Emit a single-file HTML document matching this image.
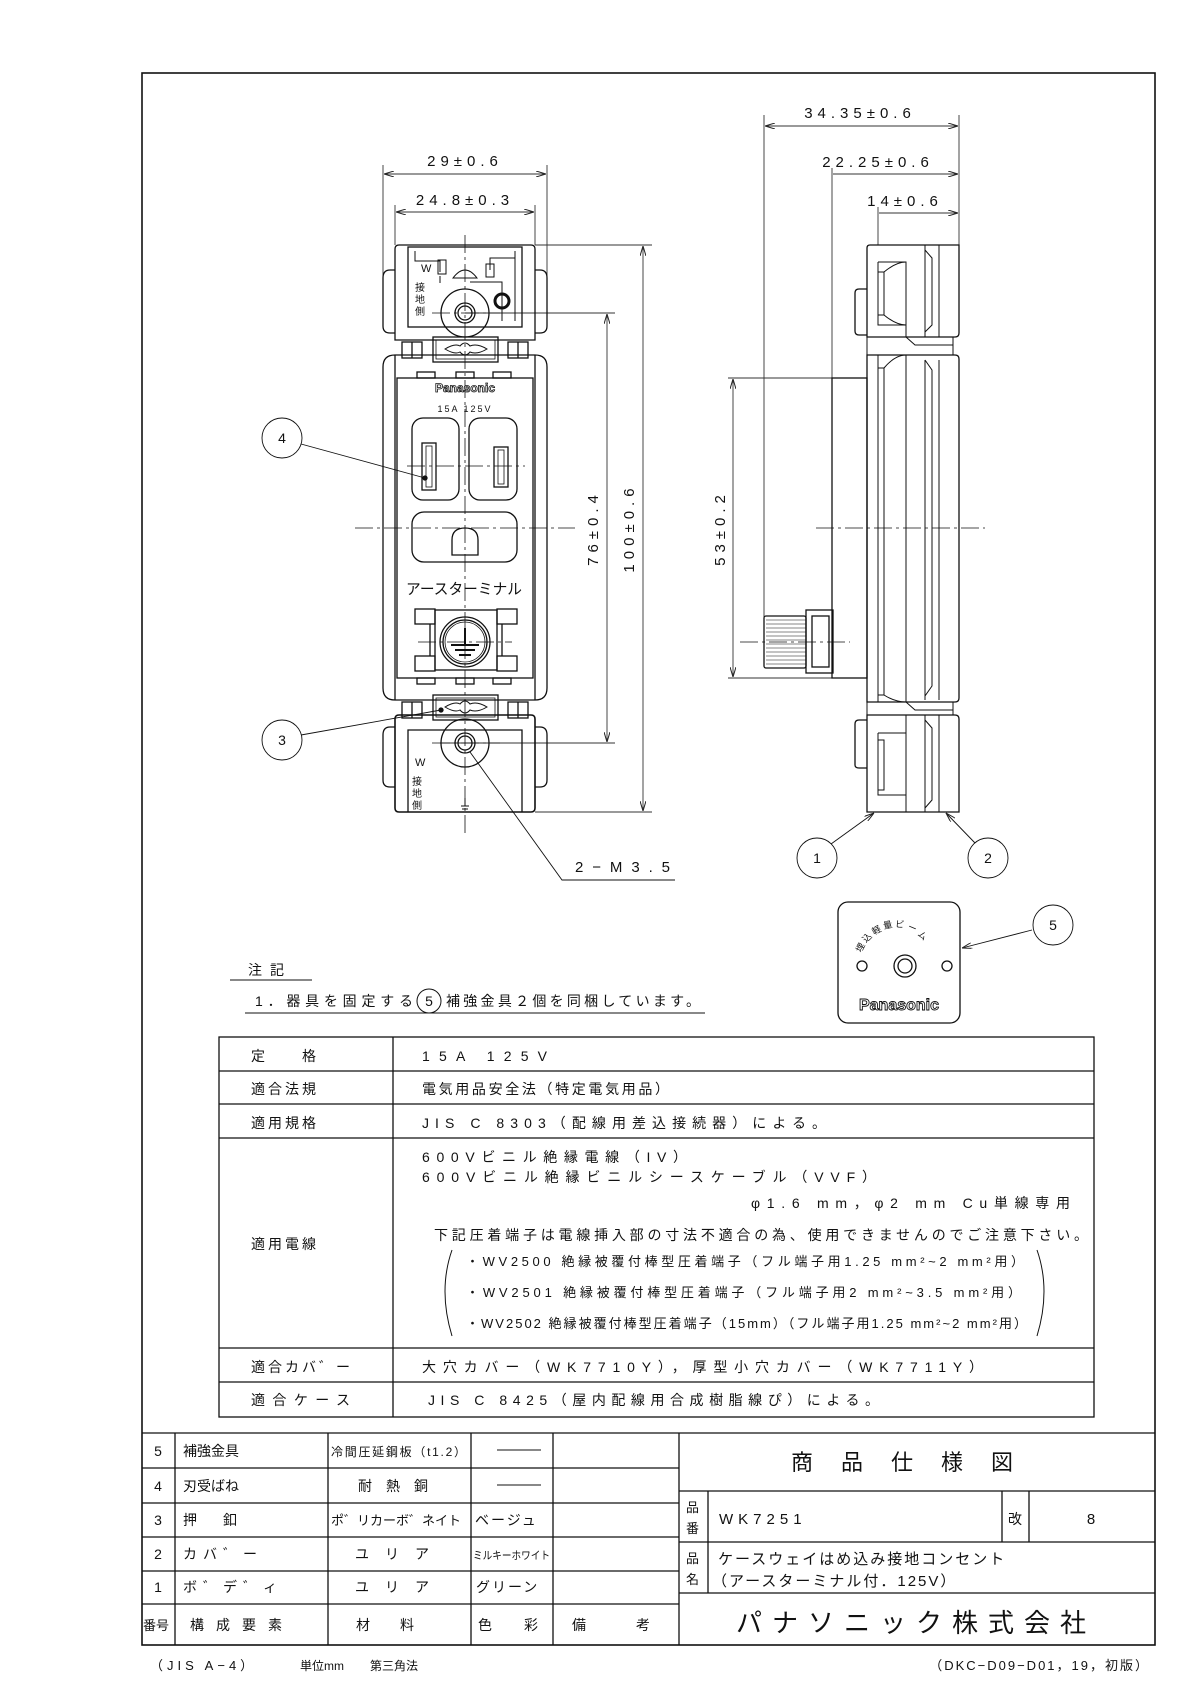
<!DOCTYPE html>
<html><head><meta charset="utf-8"><style>
html,body{margin:0;padding:0;background:#fff}
svg{display:block}
text{font-family:"Liberation Sans","Noto Sans CJK JP",sans-serif;fill:#111}
</style></head><body>
<svg width="1190" height="1683" viewBox="0 0 1190 1683" xmlns="http://www.w3.org/2000/svg">
<defs>
<marker id="ar" viewBox="0 0 10 6" refX="10" refY="3" markerWidth="10" markerHeight="6" orient="auto-start-reverse" markerUnits="userSpaceOnUse"><path d="M0,0 L10,3 L0,6" fill="none" stroke="#222" stroke-width="1"/></marker>
</defs>
<g fill="none" stroke="#111" stroke-width="1.3">
<rect x="142" y="73" width="1013" height="1572" stroke-width="1.6"/>

<g stroke-width="0.9" stroke="#333">
<line x1="383" y1="165" x2="383" y2="290"/><line x1="547" y1="165" x2="547" y2="290"/>
<line x1="384" y1="174" x2="546" y2="174" marker-start="url(#ar)" marker-end="url(#ar)"/>
<line x1="395" y1="205" x2="395" y2="245"/><line x1="535" y1="205" x2="535" y2="245"/>
<line x1="396" y1="212" x2="534" y2="212" marker-start="url(#ar)" marker-end="url(#ar)"/>
<line x1="535" y1="245" x2="652" y2="245"/><line x1="535" y1="812" x2="652" y2="812"/>
<line x1="643" y1="246" x2="643" y2="811" marker-start="url(#ar)" marker-end="url(#ar)"/>
<line x1="465" y1="313" x2="615" y2="313"/><line x1="440" y1="743" x2="615" y2="743"/>
<line x1="607" y1="314" x2="607" y2="742" marker-start="url(#ar)" marker-end="url(#ar)"/>
</g>
<g stroke-width="0.8" stroke-dasharray="18,4,3,4">
<line x1="465" y1="235" x2="465" y2="835"/>
<line x1="355" y1="528" x2="575" y2="528"/>
<line x1="432" y1="313" x2="500" y2="313"/>
<line x1="418" y1="642" x2="512" y2="642"/>
<line x1="432" y1="743" x2="500" y2="743"/>
<line x1="407" y1="466" x2="525" y2="466"/>
<line x1="816" y1="528" x2="985" y2="528"/>
<line x1="740" y1="642" x2="850" y2="642"/>
</g>
<path d="M399,245 H531 Q535,245 535,249 V340 H395 V249 Q395,245 399,245 Z"/>
<path d="M395,270 H390 Q383,270 383,278 V326 Q383,333 390,333 H395"/>
<path d="M535,270 H540 Q547,270 547,278 V326 Q547,333 540,333 H535"/>
<rect x="408" y="247" width="114" height="80"/>
<circle cx="465" cy="313" r="24"/><circle cx="465" cy="313" r="10"/><circle cx="465" cy="313" r="7"/>
<circle cx="502" cy="301" r="7" stroke-width="3"/>
<path d="M415,251 V261 H440 V272 M440,283 V276" stroke-width="1"/><rect x="438" y="260" width="8" height="14" stroke-width="1"/>
<path d="M515,251 V258 H490 V270" stroke-width="1"/><rect x="486" y="264" width="8" height="13" stroke-width="1"/>
<path d="M453,278 Q465,262 477,278 Z" stroke-width="1"/>
<path d="M470,282 H502 V321 M515,251 V321" stroke-width="1"/>
<rect x="433" y="337" width="65" height="25"/><rect x="436" y="340" width="59" height="19" stroke-width="0.8"/>
<path d="M445,349 Q455,343 460,346 Q465,340 470,346 Q477,343 487,349 Q477,355 470,352 Q465,358 460,352 Q455,355 445,349Z" stroke-width="1"/>
<rect x="402" y="342" width="20" height="16"/><line x1="412" y1="342" x2="412" y2="358"/>
<rect x="508" y="342" width="20" height="16"/><line x1="518" y1="342" x2="518" y2="358"/>
<path d="M395,355 H535 Q547,355 547,367 V688 Q547,700 535,700 H395 Q383,700 383,688 V367 Q383,355 395,355 Z"/>
<line x1="395" y1="355" x2="395" y2="700"/><line x1="535" y1="355" x2="535" y2="700"/>
<rect x="397" y="378" width="136" height="300"/>
<rect x="417" y="372" width="18" height="6"/><rect x="456" y="372" width="18" height="6"/><rect x="493" y="372" width="18" height="6"/>
<rect x="417" y="678" width="18" height="6"/><rect x="456" y="678" width="18" height="6"/><rect x="493" y="678" width="18" height="6"/>
<rect x="412" y="418" width="47" height="82" rx="11"/>
<rect x="469" y="418" width="48" height="82" rx="11"/>
<rect x="422" y="443" width="14" height="47"/><rect x="426" y="446" width="6" height="41" stroke-width="0.8"/>
<rect x="494" y="447" width="14" height="40"/><rect x="498" y="450" width="6" height="34" stroke-width="0.8"/>
<rect x="412" y="512" width="105" height="50" rx="12"/>
<path d="M452,555 V540 Q452,528 465,528 Q478,528 478,540 V555 Z"/>
<rect x="435" y="610" width="62" height="60"/>
<rect x="415" y="609" width="20" height="15"/><rect x="497" y="609" width="20" height="15"/>
<rect x="415" y="656" width="20" height="15"/><rect x="497" y="656" width="20" height="15"/>
<line x1="430" y1="624" x2="430" y2="656"/><line x1="502" y1="624" x2="502" y2="656"/>
<circle cx="465" cy="642" r="25"/><circle cx="465" cy="642" r="22"/><circle cx="465" cy="642" r="20" stroke-width="0.8"/>
<path d="M465,628 V645 M451,645 H479 M455,650 H475 M459,655 H471" stroke-width="2"/>
<rect x="433" y="695" width="65" height="25"/><rect x="436" y="698" width="59" height="19" stroke-width="0.8"/>
<path d="M445,707 Q455,701 460,704 Q465,698 470,704 Q477,701 487,707 Q477,713 470,710 Q465,716 460,710 Q455,713 445,707Z" stroke-width="1"/>
<rect x="402" y="702" width="20" height="16"/><line x1="412" y1="702" x2="412" y2="718"/>
<rect x="508" y="702" width="20" height="16"/><line x1="518" y1="702" x2="518" y2="718"/>
<path d="M399,715 H531 Q535,715 535,719 V808 Q535,812 531,812 H399 Q395,812 395,808 V719 Q395,715 399,715 Z" stroke-width="1.6"/>
<path d="M395,727 H390 Q383,727 383,735 V780 Q383,787 390,787 H395"/>
<path d="M535,727 H540 Q547,727 547,735 V780 Q547,787 540,787 H535"/>
<path d="M408,812 V730 H522 V812"/>
<circle cx="465" cy="743" r="24"/><circle cx="465" cy="743" r="10"/><circle cx="465" cy="743" r="7"/>
<path d="M465,798 V806 M461,806 H469 M462,809 H468" stroke-width="1"/>
<g stroke-width="0.9">
<circle cx="282" cy="438" r="20"/><line x1="301" y1="444" x2="425" y2="478"/>
<circle cx="282" cy="740" r="20"/><line x1="301" y1="735" x2="441" y2="710"/>
<polyline points="470,752 562,880 675,880"/>
</g>
<circle cx="425" cy="478" r="2" fill="#111"/><circle cx="441" cy="710" r="2" fill="#111"/>

<g stroke-width="0.9" stroke="#333">
<line x1="764" y1="115" x2="764" y2="640"/><line x1="959" y1="115" x2="959" y2="245"/>
<line x1="765" y1="126" x2="958" y2="126" marker-start="url(#ar)" marker-end="url(#ar)"/>
<line x1="832" y1="168" x2="832" y2="378"/>
<line x1="833" y1="174" x2="958" y2="174" marker-end="url(#ar)"/>
<line x1="878" y1="207" x2="878" y2="245"/>
<line x1="879" y1="213" x2="958" y2="213" marker-end="url(#ar)"/>
<line x1="728" y1="378" x2="867" y2="378"/><line x1="728" y1="678" x2="832" y2="678"/>
<line x1="733" y1="379" x2="733" y2="677" marker-start="url(#ar)" marker-end="url(#ar)"/>
</g>
<path d="M870,245 H959 V333 Q959,337 955,337 H867 V248 Q867,245 870,245Z"/>
<path d="M867,289 H859 Q855,289 855,293 V331 Q855,335 859,335 H867"/>
<path d="M878,262 V325 H906 M878,262 H906 V337 M925,245 V337 M939,245 V337 M878,272 H884 V315 H878" stroke-width="1"/>
<path d="M884,272 Q896,262 906,262 M884,315 Q896,325 906,325" stroke-width="1"/>
<path d="M925,250 L932,258 V325 L925,332 M939,245 V337" stroke-width="1"/>
<path d="M867,337 V355 H953 V337 M906,337 L915,345 H953" stroke-width="1"/>
<path d="M867,355 H955 Q959,355 959,359 V698 Q959,702 955,702 H867 Z"/>
<path d="M878,355 V702 M906,355 V702 M925,360 V700 M878,368 H884 V695 H878" stroke-width="1"/>
<path d="M884,368 Q895,355 906,355 M884,695 Q895,702 906,702 M925,360 L932,370 V686 L925,696 M939,360 V700" stroke-width="1"/>
<rect x="832" y="378" width="35" height="300"/>
<rect x="806" y="610" width="27" height="63"/><rect x="812" y="616" width="17" height="51"/>
<rect x="764" y="616" width="42" height="52" rx="2"/>
<g stroke-width="0.6"><line x1="766" y1="620" x2="806" y2="620"/><line x1="766" y1="624" x2="806" y2="624"/><line x1="766" y1="628" x2="806" y2="628"/><line x1="766" y1="632" x2="806" y2="632"/><line x1="766" y1="636" x2="806" y2="636"/><line x1="766" y1="640" x2="806" y2="640"/><line x1="766" y1="644" x2="806" y2="644"/><line x1="766" y1="648" x2="806" y2="648"/><line x1="766" y1="652" x2="806" y2="652"/><line x1="766" y1="656" x2="806" y2="656"/><line x1="766" y1="660" x2="806" y2="660"/><line x1="766" y1="664" x2="806" y2="664"/></g>
<path d="M867,702 V715 H953 V702 M906,702 L915,710 H953" stroke-width="1"/>
<path d="M867,715 H955 Q959,715 959,719 V812 H867 Z"/>
<path d="M867,720 H859 Q855,720 855,724 V765 Q855,768 859,768 H867"/>
<path d="M878,733 V795 H906 M878,733 H906 M906,715 V812 M925,715 V812 M939,715 V812 M878,740 H884 V790 H878" stroke-width="1"/>
<path d="M925,720 L932,728 V800 L925,808" stroke-width="1"/>
<g stroke-width="0.9">
<circle cx="817" cy="858" r="20"/><line x1="831" y1="844" x2="874" y2="813" marker-end="url(#ar)"/>
<circle cx="988" cy="858" r="20"/><line x1="975" y1="843" x2="946" y2="813" marker-end="url(#ar)"/>
</g>

<rect x="838" y="902" width="122" height="121" rx="10"/>
<circle cx="862" cy="966" r="5"/><circle cx="947" cy="966" r="5"/>
<circle cx="905" cy="966" r="11"/><circle cx="905" cy="966" r="7"/>
<circle cx="1053" cy="925" r="20" stroke-width="0.9"/>
<line x1="1032" y1="930" x2="962" y2="948" stroke-width="0.9" marker-end="url(#ar)"/>

<line x1="230" y1="980" x2="312" y2="980" stroke-width="1"/>
<line x1="245" y1="1013" x2="705" y2="1013" stroke-width="1"/>
<circle cx="429" cy="1001" r="12" stroke-width="1"/>

<rect x="219" y="1037" width="875" height="380"/>
<line x1="393" y1="1037" x2="393" y2="1417"/>
<line x1="219" y1="1071" x2="1094" y2="1071"/>
<line x1="219" y1="1104" x2="1094" y2="1104"/>
<line x1="219" y1="1138" x2="1094" y2="1138"/>
<line x1="219" y1="1348" x2="1094" y2="1348"/>
<line x1="219" y1="1382" x2="1094" y2="1382"/>
<path d="M452,1250 Q438,1290 452,1336" stroke-width="1"/>
<path d="M1037,1250 Q1051,1290 1037,1336" stroke-width="1"/>

<line x1="142" y1="1433" x2="1155" y2="1433"/>
<line x1="142" y1="1468" x2="679" y2="1468"/>
<line x1="142" y1="1503" x2="679" y2="1503"/>
<line x1="142" y1="1537" x2="679" y2="1537"/>
<line x1="142" y1="1571" x2="679" y2="1571"/>
<line x1="142" y1="1604" x2="679" y2="1604"/>
<line x1="175" y1="1433" x2="175" y2="1645"/>
<line x1="328" y1="1433" x2="328" y2="1645"/>
<line x1="471" y1="1433" x2="471" y2="1645"/>
<line x1="553" y1="1433" x2="553" y2="1645"/>
<line x1="679" y1="1433" x2="679" y2="1645"/>
<line x1="497" y1="1450" x2="541" y2="1450" stroke-width="1"/>
<line x1="497" y1="1485" x2="541" y2="1485" stroke-width="1"/>
<line x1="679" y1="1491" x2="1155" y2="1491"/>
<line x1="679" y1="1542" x2="1155" y2="1542"/>
<line x1="679" y1="1593" x2="1155" y2="1593"/>
<line x1="708" y1="1491" x2="708" y2="1593"/>
<line x1="1002" y1="1491" x2="1002" y2="1542"/>
<line x1="1029" y1="1491" x2="1029" y2="1542"/>
</g>

<g font-size="15" letter-spacing="5">
<text x="465" y="166" text-anchor="middle">29±0.6</text>
<text x="465" y="205" text-anchor="middle">24.8±0.3</text>
<text x="860" y="118" text-anchor="middle">34.35±0.6</text>
<text x="878" y="167" text-anchor="middle">22.25±0.6</text>
<text x="905" y="206" text-anchor="middle">14±0.6</text>
<text x="575" y="872" textLength="95" lengthAdjust="spacing" letter-spacing="0">2−M3.5</text>
<text transform="translate(598,528) rotate(-90)" text-anchor="middle">76±0.4</text>
<text transform="translate(634,528) rotate(-90)" text-anchor="middle">100±0.6</text>
<text transform="translate(725,528) rotate(-90)" text-anchor="middle">53±0.2</text>
</g>
<g font-size="14" text-anchor="middle">
<text x="282" y="443">4</text><text x="282" y="745">3</text>
<text x="817" y="863">1</text><text x="988" y="863">2</text><text x="1053" y="930">5</text>
</g>
<text x="465" y="392" font-size="12" font-weight="bold" text-anchor="middle" style="fill:#fff;stroke:#111;stroke-width:0.8">Panasonic</text>
<text x="465" y="412" font-size="9" letter-spacing="2" text-anchor="middle">15A 125V</text>
<text x="406" y="594" font-size="15" textLength="116" lengthAdjust="spacingAndGlyphs">アースターミナル</text>
<text x="421" y="272" font-size="11">W</text>
<text x="415" y="291" font-size="10">接</text><text x="415" y="303" font-size="10">地</text><text x="415" y="315" font-size="10">側</text>
<text x="415" y="766" font-size="11">W</text>
<text x="412" y="785" font-size="10">接</text><text x="412" y="797" font-size="10">地</text><text x="412" y="809" font-size="10">側</text>
<text x="899" y="1010" font-size="16" font-weight="bold" text-anchor="middle" style="fill:#fff;stroke:#111;stroke-width:0.9">Panasonic</text>
<g font-size="9">
<text transform="translate(861,953) rotate(-62)">埋</text>
<text transform="translate(866,943) rotate(-45)">込</text>
<text transform="translate(874,935) rotate(-28)">軽</text>
<text transform="translate(884,929) rotate(-12)">量</text>
<text transform="translate(895,927) rotate(5)">ビ</text>
<text transform="translate(907,929) rotate(22)">ー</text>
<text transform="translate(917,935) rotate(40)">ム</text>
</g>

<text x="248" y="975" font-size="14" letter-spacing="8">注記</text>
<text x="255" y="1006" font-size="14" textLength="158" lengthAdjust="spacing">1．器具を固定する</text>
<text x="429" y="1006" font-size="14" text-anchor="middle">5</text>
<text x="446" y="1006" font-size="14" textLength="254" lengthAdjust="spacing">補強金具２個を同梱しています。</text>

<g font-size="14">
<text x="251" y="1061" textLength="65" lengthAdjust="spacing">定格</text>
<text x="251" y="1094" textLength="65" lengthAdjust="spacing">適合法規</text>
<text x="251" y="1128" textLength="65" lengthAdjust="spacing">適用規格</text>
<text x="251" y="1249" textLength="65" lengthAdjust="spacing">適用電線</text>
<text x="251" y="1372" textLength="99" lengthAdjust="spacing">適合カバ゛ー</text>
<text x="251" y="1405" textLength="99" lengthAdjust="spacing">適合ケース</text>
<text x="422" y="1061" textLength="125" lengthAdjust="spacing">15A  125V</text>
<text x="422" y="1094" textLength="247" lengthAdjust="spacing">電気用品安全法（特定電気用品）</text>
<text x="422" y="1128" textLength="404" lengthAdjust="spacing">JIS  C  8303（配線用差込接続器）による。</text>
<text x="422" y="1162" textLength="265" lengthAdjust="spacing">600Vビニル絶縁電線（IV）</text>
<text x="422" y="1182" textLength="454" lengthAdjust="spacing">600Vビニル絶縁ビニルシースケーブル（VVF）</text>
<text x="751" y="1208" textLength="319" lengthAdjust="spacing">φ1.6 mm，φ2 mm  Cu単線専用</text>
<text x="434" y="1240" textLength="654" lengthAdjust="spacing">下記圧着端子は電線挿入部の寸法不適合の為、使用できませんのでご注意下さい。</text>
<text x="466" y="1266" font-size="13" textLength="558" lengthAdjust="spacing">・WV2500  絶縁被覆付棒型圧着端子（フル端子用1.25 mm²~2 mm²用）</text>
<text x="466" y="1297" font-size="13" textLength="555" lengthAdjust="spacing">・WV2501  絶縁被覆付棒型圧着端子（フル端子用2 mm²~3.5 mm²用）</text>
<text x="466" y="1328" font-size="13" textLength="561" lengthAdjust="spacing">・WV2502 絶縁被覆付棒型圧着端子（15mm）（フル端子用1.25 mm²~2 mm²用）</text>
<text x="422" y="1372" textLength="561" lengthAdjust="spacing">大穴カバー（WK7710Y），厚型小穴カバー（WK7711Y）</text>
<text x="428" y="1405" textLength="451" lengthAdjust="spacing">JIS  C  8425（屋内配線用合成樹脂線ぴ）による。</text>
</g>

<g font-size="14">
<text x="158" y="1456" text-anchor="middle">5</text><text x="158" y="1491" text-anchor="middle">4</text>
<text x="158" y="1525" text-anchor="middle">3</text><text x="158" y="1559" text-anchor="middle">2</text>
<text x="158" y="1592" text-anchor="middle">1</text>
<text x="143" y="1630" font-size="13">番号</text>
<text x="183" y="1456">補強金具</text>
<text x="183" y="1491">刃受ばね</text>
<text x="183" y="1525" letter-spacing="26">押釦</text>
<text x="183" y="1559" letter-spacing="6">カバ゛ー</text>
<text x="183" y="1592" letter-spacing="6">ボ゛デ゛ィ</text>
<text x="190" y="1630" letter-spacing="12">構成要素</text>
<text x="331" y="1456" font-size="12" textLength="135" lengthAdjust="spacing">冷間圧延鋼板（t1.2）</text>
<text x="400" y="1491" text-anchor="middle" letter-spacing="14">耐熱銅</text>
<text x="331" y="1525" font-size="13">ポ゛リカーボ゛ネイト</text>
<text x="400" y="1559" text-anchor="middle" letter-spacing="16">ユリア</text>
<text x="400" y="1592" text-anchor="middle" letter-spacing="16">ユリア</text>
<text x="400" y="1630" text-anchor="middle" letter-spacing="30">材料</text>
<text x="475" y="1525" letter-spacing="2">ベージュ</text>
<text x="473" y="1559" font-size="11" textLength="77" lengthAdjust="spacingAndGlyphs">ミルキーホワイト</text>
<text x="476" y="1592" letter-spacing="2">グリーン</text>
<text x="478" y="1630" letter-spacing="32">色彩</text>
<text x="572" y="1630" letter-spacing="50">備考</text>
</g>
<text x="916" y="1470" font-size="22" text-anchor="middle" letter-spacing="28">商品仕様図</text>
<text x="686" y="1512" font-size="13">品</text><text x="686" y="1533" font-size="13">番</text>
<text x="719" y="1524" font-size="15" letter-spacing="5">WK7251</text>
<text x="1008" y="1524" font-size="14">改</text>
<text x="1091" y="1524" font-size="15" text-anchor="middle">8</text>
<text x="686" y="1563" font-size="13">品</text><text x="686" y="1584" font-size="13">名</text>
<text x="718" y="1564" font-size="15" letter-spacing="2">ケースウェイはめ込み接地コンセント</text>
<text x="712" y="1586" font-size="15" letter-spacing="2">（アースターミナル付．125V）</text>
<text x="916" y="1632" font-size="26" text-anchor="middle" letter-spacing="10">パナソニック株式会社</text>
<text x="150" y="1670" font-size="13" letter-spacing="4">（JIS A−4）</text>
<text x="300" y="1670" font-size="12">単位mm</text>
<text x="370" y="1670" font-size="12">第三角法</text>
<text x="1150" y="1670" font-size="13" text-anchor="end" letter-spacing="2">（DKC−D09−D01，19，初版）</text>
</svg>
</body></html>
